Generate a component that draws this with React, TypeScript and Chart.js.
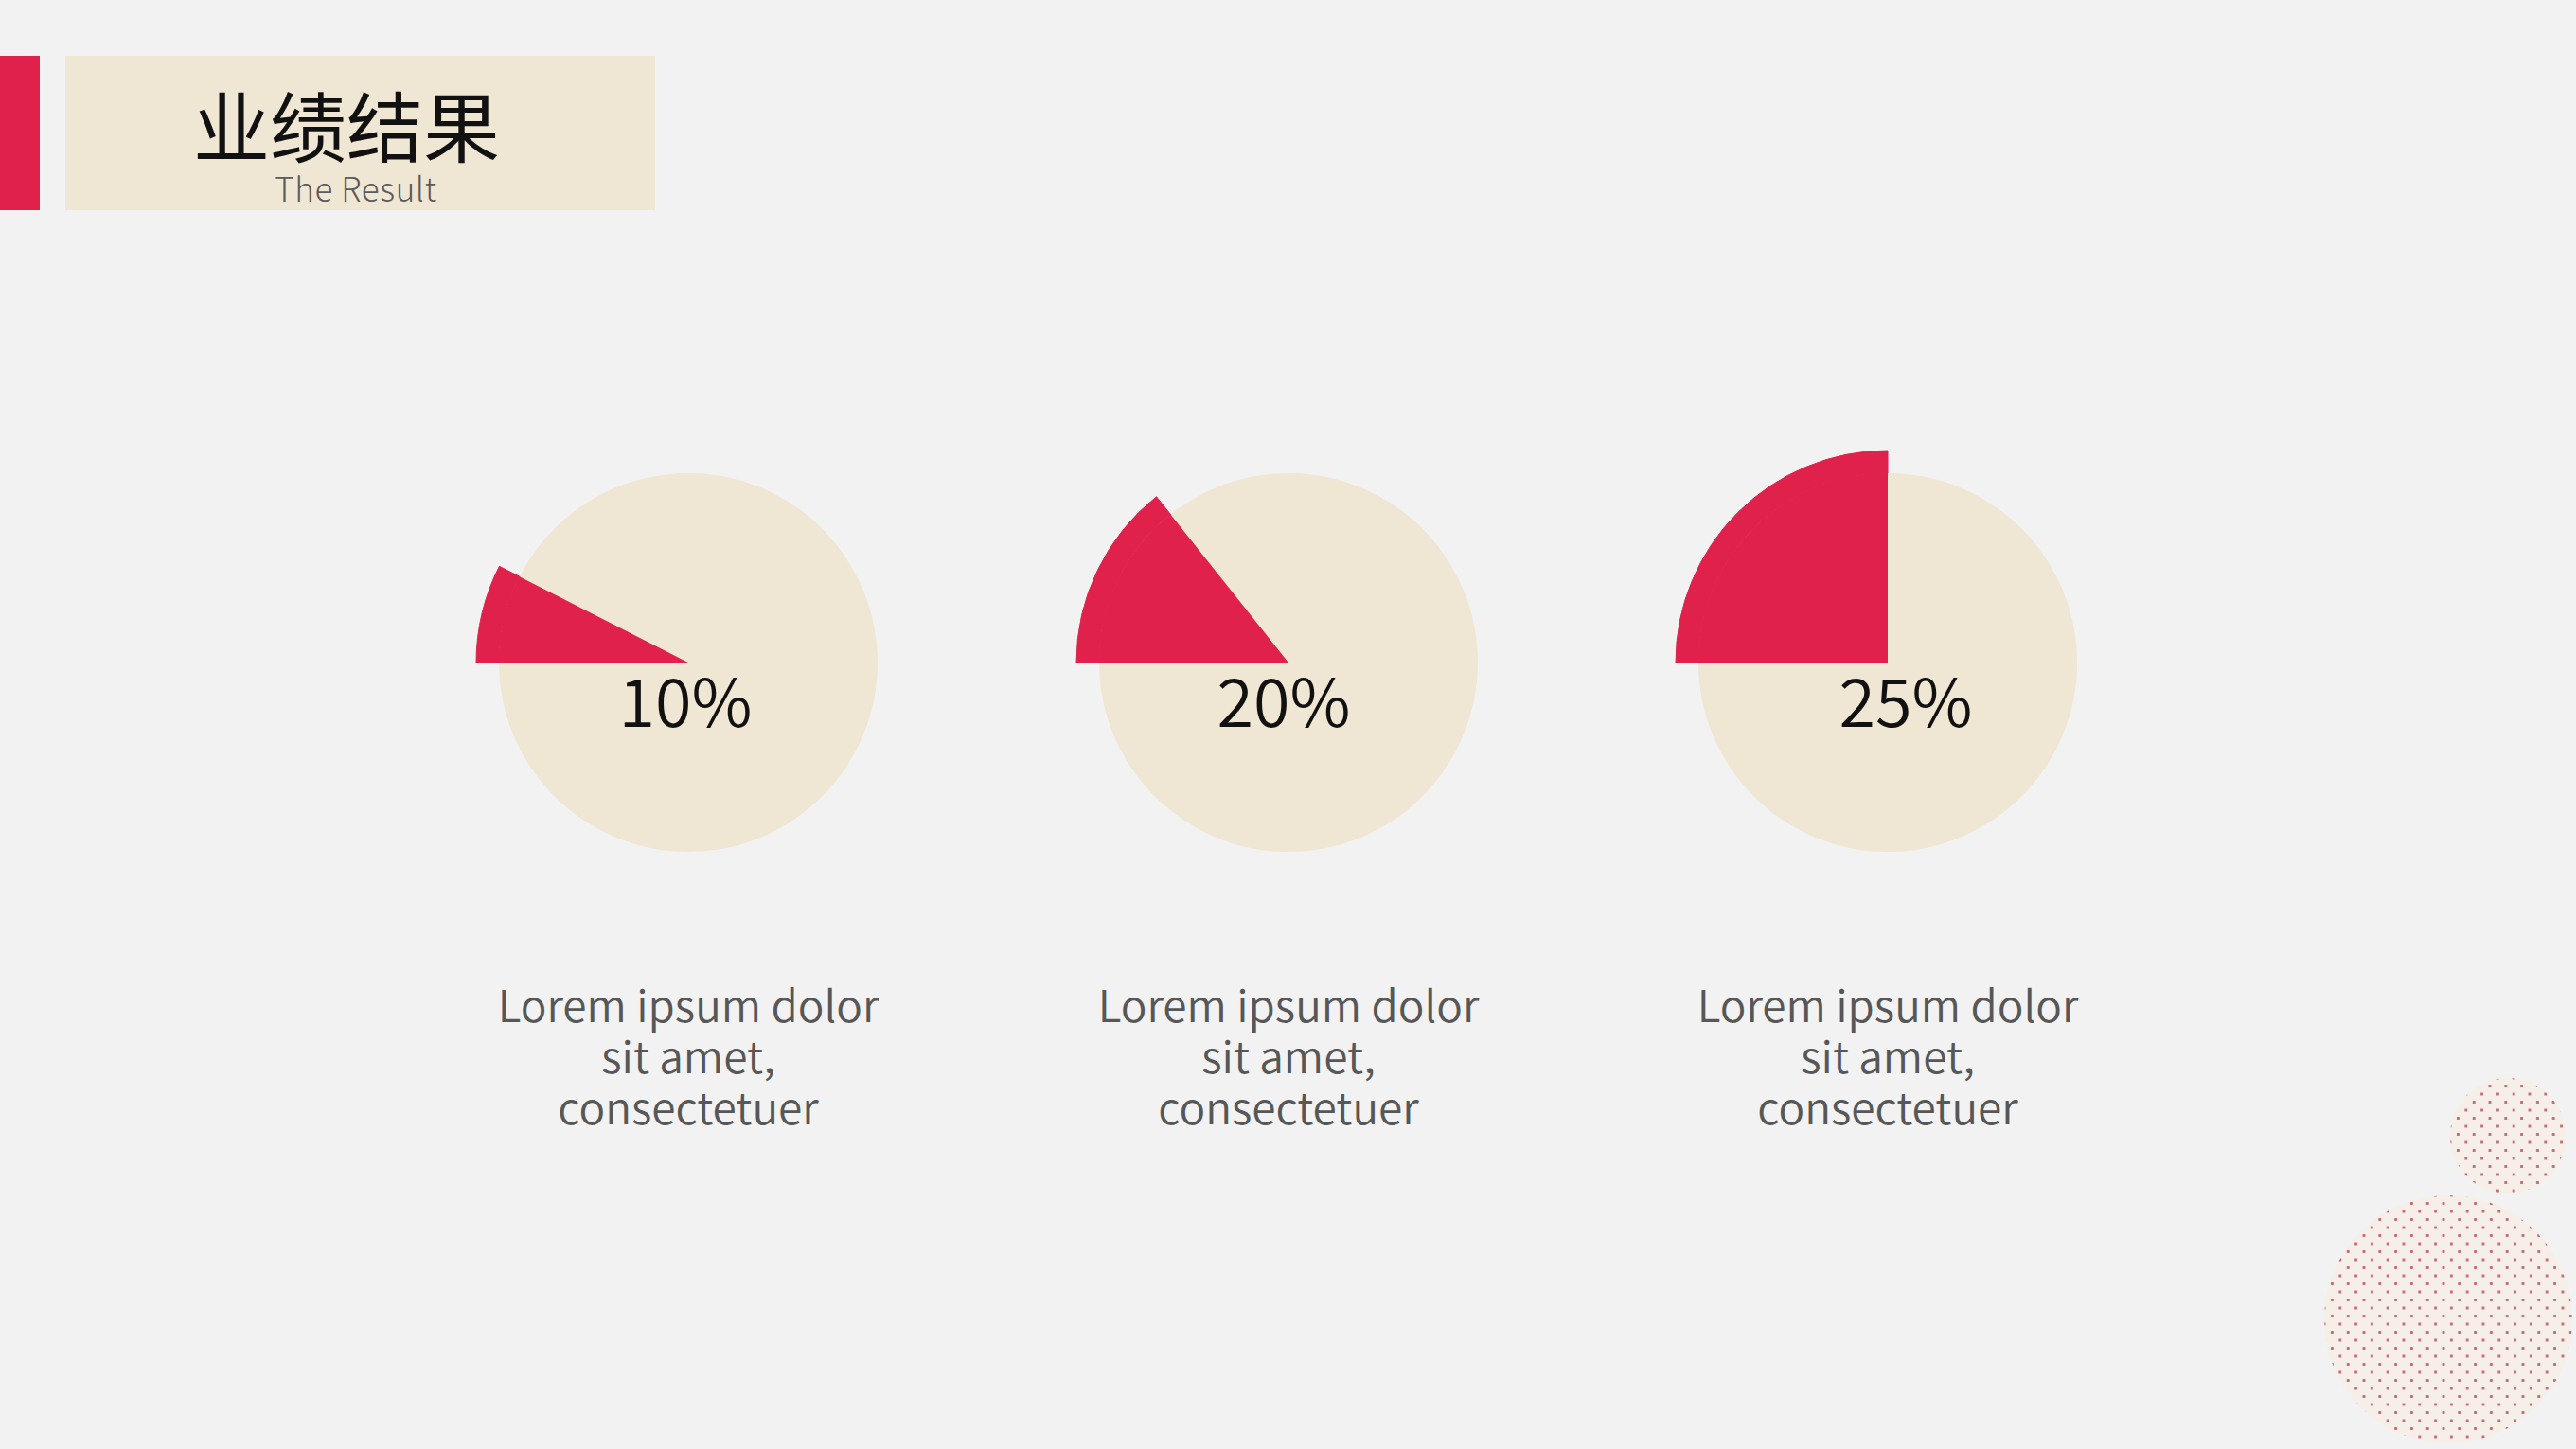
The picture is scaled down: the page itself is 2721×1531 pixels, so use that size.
import React, { useEffect, useRef } from "react";
import { Chart, registerables } from "chart.js";

Chart.register(...registerables);

// ---- data ----
const TITLE = "业绩结果";
const SUBTITLE = "The Result";
const PERCENT_LABELS = ["10%", "20%", "25%"];
// share of each disc covered by the red wedge, as drawn in the picture
const SLICE_SHARES = [7.5, 14.3, 25];
const DESCRIPTION_LINES = ["Lorem ipsum dolor", "sit amet,", "consectetuer"];

// ---- style / layout ----
const RED = "#e0214b";
const BEIGE = "#efe6d4";
const BG = "#f2f2f2";
const PIE_CENTERS_X = [727, 1361, 1994];
const PIE_CENTER_Y = 700;
const LABEL_DX = [-3, -5, 19];
const CANVAS = 520;
const FONT = '"Noto Sans CJK SC", "Noto Sans", sans-serif';

function Pie({ index }: { index: number }) {
  const ref = useRef<HTMLCanvasElement | null>(null);
  useEffect(() => {
    const share = SLICE_SHARES[index];
    const label = PERCENT_LABELS[index];
    const labelPlugin = {
      id: "centerLabel",
      afterDraw(chart: any) {
        const arc = chart.getDatasetMeta(1).data[0];
        const ctx = chart.ctx;
        ctx.save();
        ctx.font = `350 70px ${FONT}`;
        ctx.fillStyle = "#111111";
        ctx.textAlign = "center";
        ctx.textBaseline = "alphabetic";
        ctx.fillText(label, arc.x + LABEL_DX[index], arc.y + 68);
        ctx.restore();
      },
    };
    const chart = new Chart(ref.current as HTMLCanvasElement, {
      type: "doughnut",
      data: {
        labels: ["share", "rest"],
        datasets: [
          {
            data: [share, 100 - share],
            backgroundColor: [RED, "rgba(0,0,0,0)"],
            borderColor: [RED, "rgba(0,0,0,0)"],
            borderWidth: [1, 0],
            weight: 24,
          } as any,
          {
            data: [share, 100 - share],
            backgroundColor: [RED, BEIGE],
            borderColor: [RED, BEIGE],
            borderWidth: [1, 0],
            weight: 200,
          } as any,
        ],
      },
      options: {
        responsive: false,
        animation: false,
        cutout: 0,
        radius: 224,
        rotation: -90,
        events: [],
        layout: { padding: 0 },
        plugins: { legend: { display: false }, tooltip: { enabled: false } },
      } as any,
      plugins: [labelPlugin],
    });
    return () => chart.destroy();
  }, [index]);

  const cx = PIE_CENTERS_X[index];
  return (
    <>
      <canvas
        ref={ref}
        width={CANVAS}
        height={CANVAS}
        style={{
          position: "absolute",
          left: cx - CANVAS / 2,
          top: PIE_CENTER_Y - CANVAS / 2,
          width: CANVAS,
          height: CANVAS,
        }}
      />
      <div
        style={{
          position: "absolute",
          left: cx - 300,
          width: 600,
          top: 1033,
          textAlign: "center",
          fontFamily: FONT,
          fontSize: 46,
          fontWeight: 350,
          lineHeight: "54px",
          color: "#575757",
        }}
      >
        {DESCRIPTION_LINES.map((l, i) => (
          <div key={i}>{l}</div>
        ))}
      </div>
    </>
  );
}

function DotCircle({ cx, cy, r }: { cx: number; cy: number; r: number }) {
  const dot = "radial-gradient(circle, rgba(192,90,112,0.9) 1.3px, rgba(192,90,112,0) 2px)";
  return (
    <div
      style={{
        position: "absolute",
        left: cx - r,
        top: cy - r,
        width: 2 * r,
        height: 2 * r,
        borderRadius: "50%",
        backgroundColor: "#f6efe7",
        backgroundImage: `${dot}, ${dot}`,
        backgroundSize: "16.8px 17px",
        backgroundPosition: "0px 0px, 8.4px 8.5px",
      }}
    />
  );
}

export default function App() {
  useEffect(() => {
    document.body.style.margin = "0";
  }, []);
  return (
    <div
      style={{
        position: "absolute",
        left: 0,
        top: 0,
        width: 2721,
        height: 1531,
        background: BG,
        overflow: "hidden",
        fontFamily: FONT,
      }}
    >
      <div style={{ position: "absolute", left: 0, top: 59, width: 42, height: 163, background: RED }} />
      <div style={{ position: "absolute", left: 69, top: 59, width: 623, height: 163, background: BEIGE }} />
      <div
        style={{
          position: "absolute",
          left: 166,
          width: 400,
          top: 89,
          textAlign: "center",
          fontSize: 81,
          lineHeight: "81px",
          color: "#111111",
        }}
      >
        {TITLE}
      </div>
      <div
        style={{
          position: "absolute",
          left: 226,
          width: 300,
          top: 180,
          textAlign: "center",
          fontSize: 35,
          lineHeight: "35px",
          letterSpacing: "0.6px",
          color: "#5a5a5a",
          fontWeight: 300,
        }}
      >
        {SUBTITLE}
      </div>
      {PIE_CENTERS_X.map((_, i) => (
        <Pie key={i} index={i} />
      ))}
      <DotCircle cx={2649} cy={1200} r={61} />
      <DotCircle cx={2586} cy={1394} r={131} />
    </div>
  );
}
